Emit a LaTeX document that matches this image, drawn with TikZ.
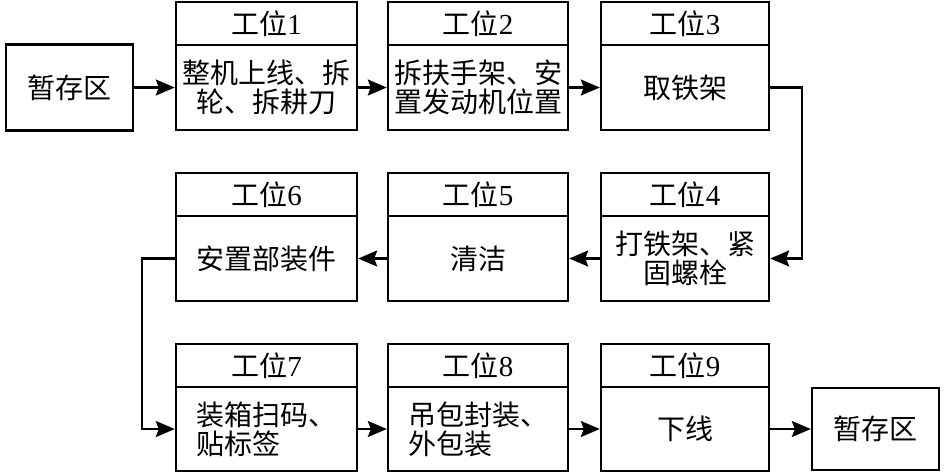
\documentclass[tikz,border=0pt]{standalone}
\usepackage{fontspec}
\setmainfont{Liberation Serif}
\newfontfamily\cjk{Noto Sans CJK SC}
\usetikzlibrary{arrows.meta}
\tikzset{
  box/.style={draw, line width=2.4pt, rectangle, inner sep=0pt, align=center,
    font=\cjk\fontsize{28}{29}\selectfont},
  head/.style={box, minimum height=43pt},
  body/.style={box, minimum height=85pt},
  c1/.style={minimum width=181pt},
  c2/.style={minimum width=180pt},
  c3/.style={minimum width=168pt},
  flow/.style={line width=2.2pt, -{Stealth[length=19pt,width=16pt,inset=3pt]}}
}
\newcommand{\gw}[1]{工位{\rmfamily\fontsize{29}{29}\selectfont #1}}
\begin{document}
\begin{tikzpicture}[x=1pt,y=-1pt]
\useasboundingbox (0,0) rectangle (945,475);
% row 1
\node[box, minimum width=127pt, minimum height=86pt] (s0) at (69.5,87.5) {暂存区};
\node[head,c1] (h1) at (266.5,23.5) {\gw{1}};
\node[body,c1] (b1) at (266.5,87.5) {整机上线、拆\\轮、拆耕刀};
\node[head,c2] (h2) at (478,23.5) {\gw{2}};
\node[body,c2] (b2) at (478,87.5) {拆扶手架、安\\置发动机位置};
\node[head,c3] (h3) at (685,23.5) {\gw{3}};
\node[body,c3] (b3) at (685,87.5) {取铁架};
% row 2
\node[head,c3] (h4) at (685,194.5) {\gw{4}};
\node[body,c3] (b4) at (685,258.5) {打铁架、紧\\固螺栓};
\node[head,c2] (h5) at (478,194.5) {\gw{5}};
\node[body,c2] (b5) at (478,258.5) {清洁};
\node[head,c1] (h6) at (266.5,194.5) {\gw{6}};
\node[body,c1] (b6) at (266.5,258.5) {安置部装件};
% row 3
\node[head,c1] (h7) at (266.5,365.5) {\gw{7}};
\node[body,c1, minimum height=84pt, align=left] (b7) at (266.5,429) {装箱扫码、\\贴标签};
\node[head,c2] (h8) at (478,365.5) {\gw{8}};
\node[body,c2, minimum height=84pt, align=left] (b8) at (478,429) {吊包封装、\\外包装};
\node[head,c3] (h9) at (685,365.5) {\gw{9}};
\node[body,c3, minimum height=84pt] (b9) at (685,429) {下线};
\node[box, minimum width=127pt, minimum height=82pt] (s1) at (875.5,429) {暂存区};
% connectors
\draw[flow] (s0.east) -- (b1.west);
\draw[flow] (b1.east) -- (b2.west);
\draw[flow] (b2.east) -- (b3.west);
\draw[flow] (b3.east) -- ++(32,0) |- (b4.east);
\draw[flow] (b4.west) -- (b5.east);
\draw[flow] (b5.west) -- (b6.east);
\draw[flow] (b6.west) -- ++(-33,0) |- (b7.west);
\draw[flow] (b7.east) -- (b8.west);
\draw[flow] (b8.east) -- (b9.west);
\draw[flow] (b9.east) -- (s1.west);
\end{tikzpicture}
\end{document}
